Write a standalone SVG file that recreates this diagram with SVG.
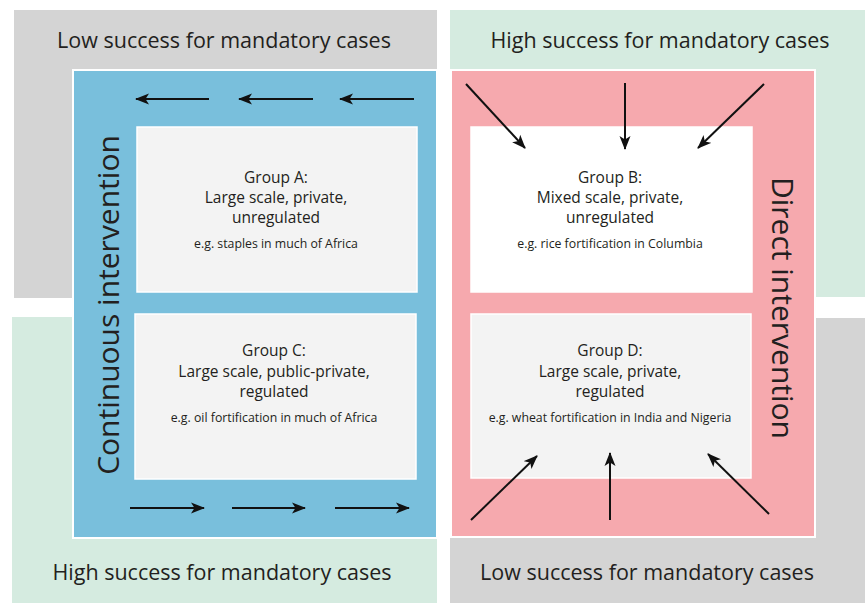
<svg xmlns="http://www.w3.org/2000/svg" width="865" height="603" viewBox="0 0 865 603">
  <style>
    .quad-low { fill: #d4d4d4; }
    .quad-high { fill: #d5ebe0; }
    .panel { stroke: #ffffff; stroke-width: 2; }
    .box { stroke: #ffffff; stroke-width: 1.5; }
    text { font-family: "Open Sans", "Liberation Sans", sans-serif; fill: #231f20; }
    .head { font-size: 21.5px; text-anchor: middle; }
    .side { font-size: 30px; text-anchor: middle; }
    .main { font-size: 15.5px; text-anchor: middle; }
    .ex { font-size: 12.3px; text-anchor: middle; }
    .conn line { stroke: #111111; stroke-width: 2; marker-end: url(#head); }
  </style>
  <defs>
    <marker id="head" markerUnits="userSpaceOnUse" markerWidth="14" markerHeight="12" viewBox="0 0 14 12" refX="13" refY="6" orient="auto">
      <path d="M0,0.5 L14,6 L0,11.5 L3.5,6 Z" fill="#111111"/>
    </marker>
  </defs>

  <rect width="865" height="603" fill="#ffffff"/>

  <!-- quadrant backgrounds -->
  <g id="quadrants">
    <rect class="quad-low" x="14" y="10" width="423" height="288"/>
    <rect class="quad-high" x="450" y="10" width="415" height="287"/>
    <rect class="quad-high" x="12" y="317" width="425" height="286"/>
    <rect class="quad-low" x="450" y="318" width="415" height="285"/>
    <text class="head" x="224" y="48">Low success for mandatory cases</text>
    <text class="head" x="660" y="48">High success for mandatory cases</text>
    <text class="head" x="222" y="580">High success for mandatory cases</text>
    <text class="head" x="647" y="580">Low success for mandatory cases</text>
  </g>

  <!-- intervention panels -->
  <g id="continuous">
    <rect class="panel" x="73" y="70" width="364" height="468" fill="#79bfdc"/>
    <text class="side" transform="translate(119,305) rotate(-90)">Continuous intervention</text>
  </g>
  <g id="direct">
    <rect class="panel" x="451" y="70" width="364" height="467" fill="#f6a9ae"/>
    <text class="side" transform="translate(772,308) rotate(90)">Direct intervention</text>
  </g>

  <!-- group boxes -->
  <g id="groupA">
    <rect class="box" x="137" y="127" width="280" height="165" fill="#f3f3f3"/>
    <text class="main" x="276" y="183">Group A:</text>
    <text class="main" x="276" y="203">Large scale, private,</text>
    <text class="main" x="276" y="223">unregulated</text>
    <text class="ex" x="276" y="248">e.g. staples in much of Africa</text>
  </g>
  <g id="groupB">
    <rect class="box" x="471" y="127" width="281" height="165" fill="#ffffff"/>
    <text class="main" x="610" y="183">Group B:</text>
    <text class="main" x="610" y="203">Mixed scale, private,</text>
    <text class="main" x="610" y="223">unregulated</text>
    <text class="ex" x="610" y="248">e.g. rice fortification in Columbia</text>
  </g>
  <g id="groupC">
    <rect class="box" x="135" y="314" width="281" height="165" fill="#f3f3f3"/>
    <text class="main" x="274" y="356">Group C:</text>
    <text class="main" x="274" y="377">Large scale, public-private,</text>
    <text class="main" x="274" y="397">regulated</text>
    <text class="ex" x="274" y="422">e.g. oil fortification in much of Africa</text>
  </g>
  <g id="groupD">
    <rect class="box" x="471" y="314" width="280" height="164" fill="#f3f3f3"/>
    <text class="main" x="610" y="356">Group D:</text>
    <text class="main" x="610" y="377">Large scale, private,</text>
    <text class="main" x="610" y="397">regulated</text>
    <text class="ex" x="610" y="422">e.g. wheat fortification in India and Nigeria</text>
  </g>

  <!-- arrows -->
  <g id="connectors" class="conn">
    <line x1="209" y1="99" x2="136" y2="99"/>
    <line x1="313" y1="99" x2="239" y2="99"/>
    <line x1="414" y1="99" x2="340" y2="99"/>
    <line x1="130" y1="508" x2="204" y2="508"/>
    <line x1="232" y1="508" x2="305" y2="508"/>
    <line x1="335" y1="508" x2="409" y2="508"/>
    <line x1="466" y1="84" x2="525" y2="148"/>
    <line x1="625" y1="83" x2="625" y2="149"/>
    <line x1="764" y1="84" x2="698" y2="148"/>
    <line x1="471" y1="520" x2="537" y2="456"/>
    <line x1="610" y1="520" x2="610" y2="453"/>
    <line x1="769" y1="514" x2="708" y2="454"/>
  </g>
</svg>
